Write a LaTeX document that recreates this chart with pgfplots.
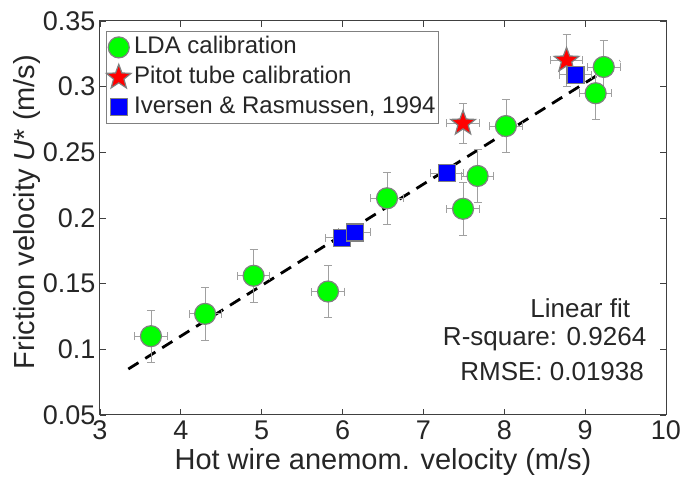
\documentclass[border=0pt]{standalone}
\usepackage{pgfplots}
\pgfplotsset{compat=1.18}
\usepackage{fontspec}
\setmainfont{Liberation Sans}
\definecolor{txt}{RGB}{38,38,38}
\definecolor{errc}{RGB}{160,160,160}
\definecolor{edgec}{RGB}{128,128,128}
\definecolor{ldagreen}{RGB}{0,255,0}

\pgfdeclareplotmark{fstar}{%
  \pgfpathmoveto{\pgfpointpolar{90}{\pgfplotmarksize}}%
  \pgfpathlineto{\pgfpointpolar{126}{0.42\pgfplotmarksize}}%
  \pgfpathlineto{\pgfpointpolar{162}{\pgfplotmarksize}}%
  \pgfpathlineto{\pgfpointpolar{198}{0.42\pgfplotmarksize}}%
  \pgfpathlineto{\pgfpointpolar{234}{\pgfplotmarksize}}%
  \pgfpathlineto{\pgfpointpolar{270}{0.42\pgfplotmarksize}}%
  \pgfpathlineto{\pgfpointpolar{306}{\pgfplotmarksize}}%
  \pgfpathlineto{\pgfpointpolar{342}{0.42\pgfplotmarksize}}%
  \pgfpathlineto{\pgfpointpolar{18}{\pgfplotmarksize}}%
  \pgfpathlineto{\pgfpointpolar{54}{0.42\pgfplotmarksize}}%
  \pgfpathclose
  \pgfusepathqfillstroke
}

\pgfplotstableread{
x y ex ey
3.63 0.110 0.2 0.02
4.30 0.127 0.2 0.02
4.90 0.156 0.2 0.02
5.82 0.144 0.2 0.02
6.55 0.215 0.2 0.02
7.67 0.232 0.2 0.02
7.49 0.207 0.2 0.02
8.02 0.270 0.2 0.02
9.23 0.315 0.2 0.02
9.13 0.295 0.2 0.02
}\lda
\pgfplotstableread{
x y ex ey
7.49 0.272 0.2 0.015
8.77 0.320 0.2 0.02
}\pitot
\pgfplotstableread{
x y ex ey
5.99 0.185 0.2 0.005
6.15 0.189 0.2 0.005
7.29 0.234 0.2 0.005
8.88 0.309 0.2 0.005
}\iversen

\begin{document}
\begin{tikzpicture}
\begin{axis}[
  name=ax,
  scale only axis, width=566pt, height=394pt,
  xmin=3, xmax=10, ymin=0.05, ymax=0.35,
  xtick={3,4,5,6,7,8,9,10},
  ytick={0.05,0.1,0.15,0.2,0.25,0.3,0.35},
  yticklabels={0.05,0.1,0.15,0.2,0.25,0.3,0.35},
  /pgf/number format/assume math mode=true,
  tick align=inside,
  major tick length=6pt,
  tick style={draw=black!75, line width=0.8pt},
  axis line style={draw=black!75, line width=1pt},
  ticklabel style={font=\fontsize{27}{27}\selectfont, text=txt},
  label style={font=\fontsize{29}{29}\selectfont, text=txt},
  xticklabel style={yshift=-2pt},
  yticklabel style={xshift=-1pt},
  xlabel={Hot wire anemom. velocity (m/s)},
  ylabel={Friction velocity \textit{U}* (m/s)},
  xlabel style={yshift=-2pt},
  ylabel style={yshift=-4pt, xshift=6pt},
  legend style={at={(0,1)}, anchor=north west, xshift=6pt, yshift=-10pt,
    draw=edgec, line width=0.8pt, fill=white,
    font=\fontsize{24}{24}\selectfont, text=txt,
    inner xsep=0pt, inner ysep=1pt, row sep=0pt,
    nodes={text height=18pt, text depth=5pt, inner ysep=3.5pt, inner xsep=3pt}},
  legend cell align=left,
  legend image code/.code={\draw[#1] plot coordinates {(0.28cm,0cm)};},
  error bars/error bar style={draw=errc, line width=0.8pt},
  error bars/error mark options={rotate=90, draw=errc, mark size=4pt, line width=0.8pt},
]
\addplot[forget plot, black, line width=2.8pt, dash pattern=on 12pt off 8pt] coordinates {(3.35,0.085) (9.43,0.3195)};

\addplot[only marks, mark=*, mark size=10.5pt, mark options={fill=ldagreen, draw=edgec, line width=1.2pt},
  error bars/.cd, x dir=both, x explicit, y dir=both, y explicit]
  table[x=x, y=y, x error=ex, y error=ey]{\lda};
\addlegendentry{LDA calibration}

\addplot[only marks, mark=fstar, mark size=13pt, mark options={fill=red, draw=edgec, line width=1.2pt},
  error bars/.cd, x dir=both, x explicit, y dir=both, y explicit]
  table[x=x, y=y, x error=ex, y error=ey]{\pitot};
\addlegendentry{Pitot tube calibration}

\addplot[only marks, mark=square*, mark size=8.5pt, mark options={fill=blue, draw=edgec, line width=1.2pt},
  error bars/.cd, x dir=both, x explicit, y dir=both, y explicit]
  table[x=x, y=y, x error=ex, y error=ey]{\iversen};
\addlegendentry{Iversen \& Rasmussen, 1994}

\node[anchor=east, font=\fontsize{26}{26}\selectfont, text=txt] at (axis cs:9.60,0.1314) {Linear fit};
\node[anchor=east, font=\fontsize{26}{26}\selectfont, text=txt] at (axis cs:9.80,0.1078) {R-square: 0.9264};
\node[anchor=east, font=\fontsize{26}{26}\selectfont, text=txt] at (axis cs:9.77,0.0834) {RMSE: 0.01938};
\end{axis}
\pgfresetboundingbox
\path ([shift={(-100pt,-65pt)}]ax.south west) rectangle ([shift={(16pt,21pt)}]ax.north east);
\end{tikzpicture}
\end{document}
